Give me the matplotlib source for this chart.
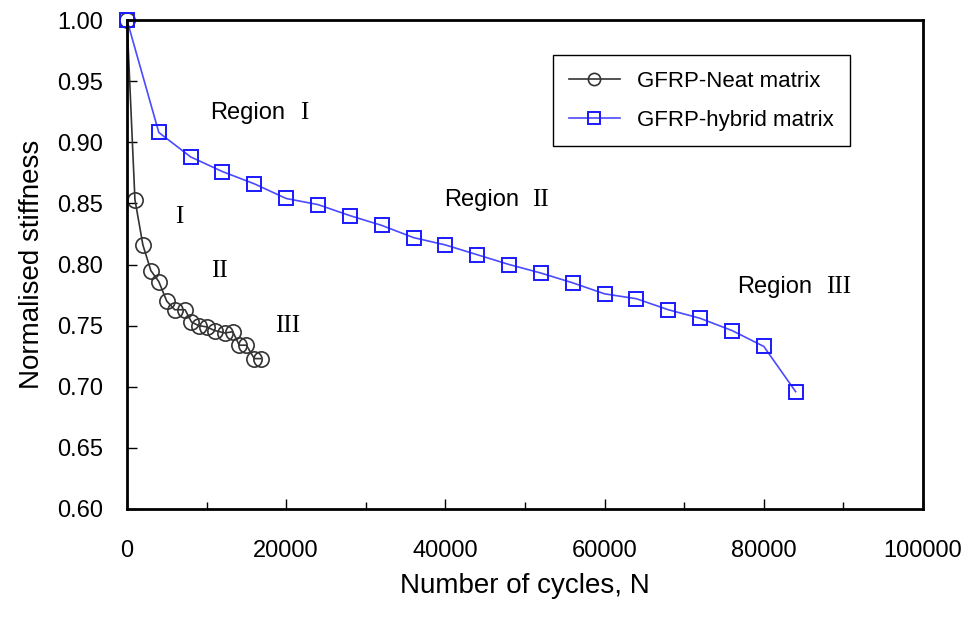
import numpy as np
import matplotlib.pyplot as plt
from matplotlib.ticker import MultipleLocator

# GFRP-Neat matrix
neat_n = [0, 1000, 2000, 3000, 4000, 5000, 6000, 7300, 8100, 9000, 10000,
          11000, 12300, 13300, 14100, 15000, 16000, 16800]
neat_s = [1.000, 0.853, 0.816, 0.795, 0.786, 0.770, 0.763, 0.763, 0.753, 0.750,
          0.749, 0.746, 0.744, 0.745, 0.734, 0.734, 0.723, 0.723]

# GFRP-hybrid matrix
hyb_n = [0, 4000, 8000, 12000, 16000, 20000, 24000, 28000, 32000, 36000, 40000,
         44000, 48000, 52000, 56000, 60000, 64000, 68000, 72000, 76000, 80000, 84000]
hyb_s = [1.000, 0.908, 0.888, 0.876, 0.866, 0.854, 0.849, 0.840, 0.832, 0.822,
         0.816, 0.808, 0.800, 0.793, 0.785, 0.776, 0.772, 0.763, 0.756, 0.746,
         0.733, 0.696]

plt.rcParams['font.family'] = ['Liberation Sans', 'DejaVu Sans']

fig = plt.figure(figsize=(9.73, 6.22), dpi=100)
ax = fig.add_axes([0.1305, 0.1817, 0.8181, 0.7861])

ax.plot(neat_n, neat_s, color='#333333', lw=1.2, marker='o', ms=11,
        mfc='none', mec='#333333', mew=1.2, clip_on=False, label='GFRP-Neat matrix')
ax.plot(hyb_n, hyb_s, color='#4a4aff', lw=1.2, marker='s', ms=10.5,
        mfc='none', mec='#1a1aff', mew=1.4, clip_on=False, label='GFRP-hybrid matrix')

ax.set_xlim(0, 100000)
ax.set_ylim(0.60, 1.00)
ax.xaxis.set_major_locator(MultipleLocator(20000))
ax.xaxis.set_minor_locator(MultipleLocator(10000))
ax.yaxis.set_major_locator(MultipleLocator(0.05))
ax.yaxis.set_major_formatter(plt.FormatStrFormatter('%.2f'))
ax.tick_params(which='both', direction='in', top=False, right=False,
               labelsize=17, width=1)
ax.tick_params(which='major', length=7)
ax.tick_params(which='minor', length=5)
ax.tick_params(axis='x', pad=22)
ax.tick_params(axis='y', pad=17)
for sp in ax.spines.values():
    sp.set_linewidth(2)

ax.set_xlabel('Number of cycles, N', fontsize=20, labelpad=8)
ax.set_ylabel('Normalised stiffness', fontsize=20, labelpad=9)

serif = 'Liberation Serif'
ax.text(10400, 0.924, 'Region', fontsize=17, va='center')
ax.text(21700, 0.924, 'I', fontsize=18, va='center', family=serif)
ax.text(39800, 0.853, 'Region', fontsize=17, va='center')
ax.text(50900, 0.853, 'II', fontsize=18, va='center', family=serif)
ax.text(76700, 0.782, 'Region', fontsize=17, va='center')
ax.text(87800, 0.782, 'III', fontsize=18, va='center', family=serif)
ax.text(6000, 0.839, 'I', fontsize=18, va='center', family=serif)
ax.text(10600, 0.795, 'II', fontsize=18, va='center', family=serif)
ax.text(18600, 0.750, 'III', fontsize=18, va='center', family=serif)

leg = ax.legend(loc='upper right', bbox_to_anchor=(0.908, 0.928), fontsize=16,
                fancybox=False, edgecolor='black', handlelength=2.3,
                markerscale=0.8, borderpad=0.7, labelspacing=0.8,
                borderaxespad=0, framealpha=1)
leg.get_frame().set_linewidth(1)

fig.savefig('out.png', dpi=100)
